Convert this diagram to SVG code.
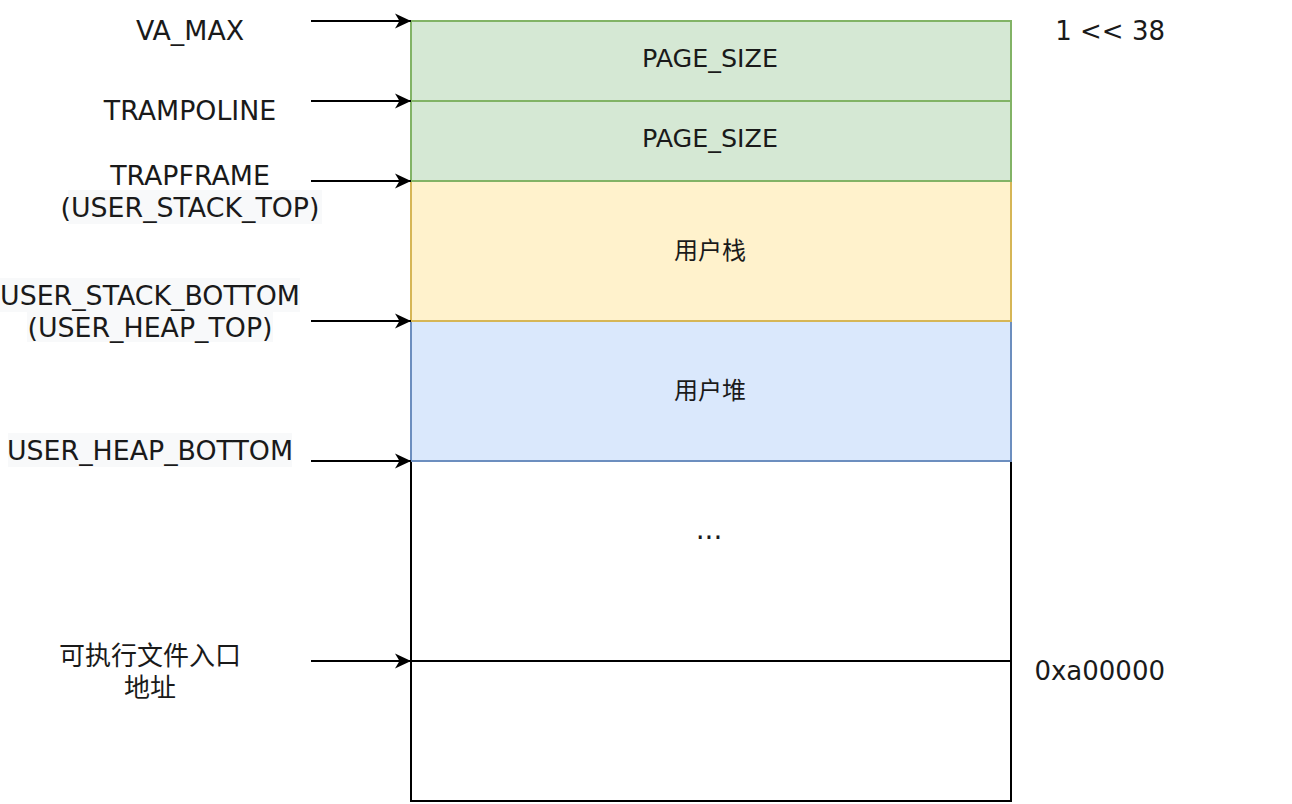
<svg xmlns="http://www.w3.org/2000/svg" width="1292" height="804" viewBox="0 0 1292 804">
  <style>
    text { font-family: "DejaVu Sans", "Noto Sans CJK SC", sans-serif; fill: #1a1a1a; }
    .lbl { font-size: 26.8px; text-anchor: middle; }
    .addr { font-size: 26px; text-anchor: end; }
    .box { font-size: 25.4px; text-anchor: middle; }
    .cjk { font-size: 24px; }
    .hl { fill: #f8f9fa; }
    .seg { stroke-width: 2; }
    .green { fill: #d5e8d4; stroke: #82b366; }
    .yellow { fill: #fff2cc; stroke: #d6b656; }
    .blue { fill: #dae8fc; stroke: #6c8ebf; }
    .plain { fill: #ffffff; stroke: #000000; }
    .conn { stroke: #000000; stroke-width: 2; fill: none; marker-end: url(#arrow); }
  </style>
  <defs>
    <marker id="arrow" markerUnits="userSpaceOnUse" markerWidth="18" markerHeight="18" refX="16" refY="8" orient="auto">
      <path d="M0,0.5 L16,8 L0,15.5 L4.5,8 Z" fill="#000000"/>
    </marker>
  </defs>

  <rect width="1292" height="804" fill="#ffffff"/>

  <!-- memory segments -->
  <g id="seg-lower">
    <rect class="seg plain" x="411" y="661" width="600" height="140"/>
  </g>
  <g id="seg-gap">
    <rect class="seg plain" x="411" y="461" width="600" height="200"/>
    <text class="box" x="709" y="539" style="font-size:28px">...</text>
  </g>
  <g id="seg-heap">
    <rect class="seg blue" x="411" y="321" width="600" height="140"/>
    <text class="box cjk" x="710" y="399">用户堆</text>
  </g>
  <g id="seg-stack">
    <rect class="seg yellow" x="411" y="181" width="600" height="140"/>
    <text class="box cjk" x="710" y="259">用户栈</text>
  </g>
  <g id="seg-trapframe">
    <rect class="seg green" x="411" y="101" width="600" height="80"/>
    <text class="box" x="710" y="147">PAGE_SIZE</text>
  </g>
  <g id="seg-trampoline">
    <rect class="seg green" x="411" y="21" width="600" height="80"/>
    <text class="box" x="710" y="67">PAGE_SIZE</text>
  </g>

  <!-- address labels -->
  <g id="lbl-va-max">
    <text class="lbl" x="190" y="40">VA_MAX</text>
  </g>
  <g id="lbl-trampoline">
    <text class="lbl" x="190" y="120">TRAMPOLINE</text>
  </g>
  <g id="lbl-trapframe">
    <rect class="hl" x="68" y="190" width="254" height="34"/>
    <text class="lbl" x="190" y="185">TRAPFRAME</text>
    <text class="lbl" x="190" y="217">(USER_STACK_TOP)</text>
  </g>
  <g id="lbl-stack-bottom">
    <rect class="hl" x="0" y="278" width="300" height="34"/>
    <rect class="hl" x="27" y="312" width="246" height="30"/>
    <text class="lbl" x="150" y="305">USER_STACK_BOTTOM</text>
    <text class="lbl" x="150" y="337">(USER_HEAP_TOP)</text>
  </g>
  <g id="lbl-heap-bottom">
    <rect class="hl" x="8" y="433" width="284" height="34"/>
    <text class="lbl" x="150" y="460">USER_HEAP_BOTTOM</text>
  </g>
  <g id="lbl-entry">
    <text class="lbl" x="150" y="665" style="font-size:26px">可执行文件入口</text>
    <text class="lbl" x="150" y="697" style="font-size:26px">地址</text>
  </g>
  <g id="lbl-top-value">
    <text class="addr" x="1165" y="40">1 &lt;&lt; 38</text>
  </g>
  <g id="lbl-entry-value">
    <text class="addr" x="1165" y="680">0xa00000</text>
  </g>

  <!-- pointers into the address space -->
  <g id="connectors">
    <line class="conn" x1="311" y1="21" x2="411" y2="21"/>
    <line class="conn" x1="311" y1="101" x2="411" y2="101"/>
    <line class="conn" x1="311" y1="181" x2="411" y2="181"/>
    <line class="conn" x1="311" y1="321" x2="411" y2="321"/>
    <line class="conn" x1="311" y1="461" x2="411" y2="461"/>
    <line class="conn" x1="311" y1="661" x2="411" y2="661"/>
  </g>
</svg>
